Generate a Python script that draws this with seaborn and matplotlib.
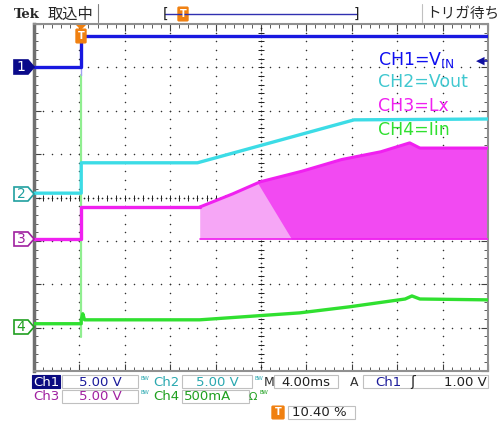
import numpy as np
import pandas as pd
import seaborn as sns
import matplotlib.pyplot as plt
from matplotlib.patches import Polygon, Rectangle, FancyBboxPatch

# Scope capture: time in ms (4.00 ms/div, 10 div), vertical in divisions (8 div)
trig_t = 4.16

ch1_t = [0, 4.16, 4.16, 40]
ch1_v = [3.00, 3.00, 3.72, 3.72]

ch2_t = [0, 4.16, 4.16, 14.4, 28.2, 40]
ch2_v = [0.10, 0.10, 0.80, 0.80, 1.79, 1.81]

ch3_t = [0, 4.16, 4.16, 14.6]
ch3_v = [-0.95, -0.95, -0.22, -0.22]

# CH3 switching envelope (Lx)
env_t = [14.6, 17.3, 19.9, 23.4, 27.0, 30.5, 33.1, 34.0, 40]
env_top = [-0.22, 0.06, 0.36, 0.59, 0.87, 1.05, 1.26, 1.14, 1.14]
env_bot = -0.96
dense_t = [19.7, 22.7]   # where continuous switching starts (top, bottom)

ch4_t = [0, 4.16, 4.16, 4.3, 4.45, 14.6, 23.4, 27.8, 32.7, 33.3, 34.0, 40]
ch4_v = [-2.91, -2.91, -2.82, -2.68, -2.82, -2.82, -2.66, -2.52, -2.34, -2.27, -2.34, -2.36]
ch4_spike = [-3.21, 2.82]

legend_txt = ['CH1=V', 'CH2=Vout', 'CH3=Lx', 'CH4=Iin']
trace_col = {'CH1': '#1818e0', 'CH2': '#3cdce6', 'CH3': '#f020f0', 'CH4': '#30e030'}
label_col = {'CH1': '#1010f0', 'CH2': '#40c8d0', 'CH3': '#f020f0', 'CH4': '#30e030'}

W, H = 498, 421

sns.set_style('white')
plt.rcParams['font.family'] = ['DejaVu Sans']
plt.rcParams['mathtext.fontset'] = 'dejavusans'

fig = plt.figure(figsize=(W / 100, H / 100), dpi=100)
ax = fig.add_axes([34 / W, 1 - 371 / H, 454 / W, 347 / H])
ax.set_xlim(0, 40)
ax.set_ylim(-4, 4)


def P(x, y):
    return (x / W, 1 - y / H)


# graticule dots
gx, gy = [], []
for k in range(1, 10):
    if k == 5:
        continue
    for j in range(1, 40):
        gx.append(4 * k)
        gy.append(-4 + j * 0.2)
for k in range(-3, 4):
    if k == 0:
        continue
    for i in range(1, 50):
        gx.append(i * 0.8)
        gy.append(k)
ax.scatter(gx, gy, s=1.2, color='#303030', lw=0, zorder=1)

# center cross, denser with tick marks
cx = np.arange(0.4, 40, 0.4)
cy = np.arange(-3.9, 4, 0.1)
ax.scatter(cx, np.zeros_like(cx), s=1.5, color='#202020', lw=0, zorder=1)
ax.scatter(np.full_like(cy, 20.0), cy, s=1.5, color='#202020', lw=0, zorder=1)
ax.scatter(np.arange(0.8, 40, 0.8), np.zeros(49), marker='|', s=14, lw=0.7,
           color='#202020', zorder=1)
ax.scatter(np.full(39, 20.0), np.arange(-3.8, 4, 0.2), marker='_', s=14, lw=0.7,
           color='#202020', zorder=1)

# CH3 envelope
tt = np.linspace(env_t[0], 40, 800)
top = np.interp(tt, env_t, env_top)
ax.fill_between(tt, env_bot, top, color='#f6a6f6', lw=0, zorder=2)
top0 = np.interp(dense_t[0], env_t, env_top)
edge = top0 + (tt - dense_t[0]) / (dense_t[1] - dense_t[0]) * (env_bot - top0)
lower = np.clip(edge, env_bot, top)
ax.fill_between(tt, lower, top, where=tt >= dense_t[0], color='#f24af2', lw=0, zorder=2)
ax.plot(tt, top, color=trace_col['CH3'], lw=2.2, zorder=3)
ax.plot([tt[0], 40], [env_bot, env_bot], color=trace_col['CH3'], lw=1.2, zorder=3)

# traces
frames = []
for name, t, v in [('CH1', ch1_t, ch1_v), ('CH2', ch2_t, ch2_v),
                   ('CH3', ch3_t, ch3_v), ('CH4', ch4_t, ch4_v)]:
    frames.append(pd.DataFrame({'t': t, 'v': v, 'ch': name}))
df = pd.concat(frames, ignore_index=True)
sns.lineplot(data=df, x='t', y='v', hue='ch', palette=trace_col, sort=False,
             estimator=None, lw=2.4, legend=False, ax=ax, zorder=4)
ax.plot([trig_t, trig_t], ch4_spike, color='#90ee90', lw=1.6, zorder=3)
ax.plot([trig_t, trig_t], [ch4_spike[1], ch1_v[2]], color='#a0a0f0', lw=1.0, zorder=3)

ax.set_xlabel('')
ax.set_ylabel('')
ax.set_xticks(np.arange(0, 40.1, 4))
ax.set_yticks(np.arange(-4, 4.1, 1))
ax.set_xticks(np.arange(0, 40.1, 0.8), minor=True)
ax.set_yticks(np.arange(-4, 4.1, 0.2), minor=True)
ax.tick_params(which='both', direction='in', top=True, right=True, bottom=True, left=True,
               labelbottom=False, labelleft=False, color='#404040')
ax.tick_params(which='major', length=5, width=0.8)
ax.tick_params(which='minor', length=3, width=0.6)
for s in ax.spines.values():
    s.set_color('#909090')
    s.set_linewidth(1.5)
ax.spines['left'].set_linewidth(2.5)
ax.spines['left'].set_color('#707070')

# legend text in plot
ly = [60, 82, 106, 130]
chs = ['CH1', 'CH2', 'CH3', 'CH4']
for i, (ch, s) in enumerate(zip(chs, legend_txt)):
    if ch == 'CH1':
        s = r'CH1=V$_{\mathregular{IN}}$'
    fig.text(*P(378, ly[i]), s, color=label_col[ch], fontsize=12.5, va='center', ha='left')
fig.text(*P(484, 61), '\u25c0', color='#1010a0', fontsize=8, va='center', ha='right')
fig.add_artist(plt.Line2D([482 / W, 487 / W], [1 - 61 / H] * 2, color='#1010a0', lw=1.2))

# channel markers
mk = [('1', 67, '#0a0a8a', 'white', '#0a0a8a'), ('2', 194, 'white', '#20a0a0', '#20a0a0'),
      ('3', 239, 'white', '#a020a0', '#a020a0'), ('4', 327, 'white', '#20a020', '#20a020')]
for lab, yc, fc, tc, ec in mk:
    pts = [P(14, yc - 7), P(28, yc - 7), P(34, yc), P(28, yc + 7), P(14, yc + 7)]
    fig.add_artist(Polygon(pts, closed=True, fc=fc, ec=ec, lw=1.2, transform=fig.transFigure))
    fig.text(*P(21, yc), lab, color=tc, fontsize=10, va='center', ha='center')


def tmark(x, y):
    fig.add_artist(FancyBboxPatch(P(x - 4, y + 6), 8 / W, 12 / H, boxstyle='round,pad=0.002',
                                  fc='#f08010', ec='#f08010', transform=fig.transFigure))
    fig.text(*P(x, y), 'T', color='white', fontsize=7, fontweight='bold', va='center', ha='center')


tmark(81, 36)
fig.add_artist(Polygon([P(76, 25), P(86, 25), P(81, 30)], fc='#f08010', ec='none',
                       transform=fig.transFigure))

# header
fig.text(*P(14, 14), 'Tek', fontsize=9.5, fontweight='bold', family='DejaVu Serif', va='center')
fig.text(*P(48, 14), '取込中', fontsize=11, family=['Noto Sans CJK JP', 'DejaVu Sans'], va='center')
fig.add_artist(plt.Line2D([98 / W] * 2, [1 - 4 / H, 1 - 22 / H], color='#808080', lw=0.8))
fig.add_artist(plt.Line2D([165 / W, 357 / W], [1 - 14 / H] * 2, color='#3030b0', lw=1.0))
fig.text(*P(163, 14), '[', fontsize=10, va='center', color='#202020')
fig.text(*P(354, 14), ']', fontsize=10, va='center', color='#202020')
tmark(183, 14)
fig.add_artist(plt.Line2D([422 / W] * 2, [1 - 4 / H, 1 - 22 / H], color='#c0c0c0', lw=0.8))
fig.text(*P(426, 14), 'トリガ待ち', fontsize=10.5, family=['Noto Sans CJK JP', 'DejaVu Sans'],
         va='center')


# bottom readout
def rbox(x0, y0, x1, y1, fc='white', ec='#c0c0c0'):
    fig.add_artist(Rectangle(P(x0, y1), (x1 - x0) / W, (y1 - y0) / H, fc=fc, ec=ec, lw=0.8,
                             transform=fig.transFigure))


def rtxt(x, y, s, c, fs=9.5, ha='left', **kw):
    fig.text(*P(x, y), s, color=c, fontsize=fs, va='center', ha=ha, **kw)


navy, teal, purple, green = '#1a1a9a', '#2aa8b0', '#a020a0', '#20a020'
rbox(32, 375, 60, 388, fc='#0a0a80', ec='#0a0a80')
rtxt(46, 382, 'Ch1', 'white', ha='center')
rbox(62, 375, 138, 388)
rtxt(100, 382, '5.00 V', navy, ha='center')
rtxt(140, 378, 'BW', teal, fs=4)
rtxt(153, 382, 'Ch2', teal)
rbox(182, 375, 252, 388)
rtxt(217, 382, '5.00 V', teal, ha='center')
rtxt(254, 378, 'BW', teal, fs=4)
rtxt(264, 382, 'M', '#303030', fs=9)
rbox(274, 375, 338, 388)
rtxt(306, 382, '4.00ms', '#202020', ha='center')
rtxt(350, 382, 'A', '#303030', fs=9)
rbox(363, 375, 488, 388)
rtxt(375, 382, 'Ch1', navy)
rtxt(410, 382, 'ʃ', '#202020', fs=10)
rtxt(487, 382, '1.00 V', '#202020', ha='right')

rtxt(46, 397, 'Ch3', purple, ha='center')
rbox(62, 390, 138, 403)
rtxt(100, 397, '5.00 V', purple, ha='center')
rtxt(140, 393, 'BW', teal, fs=4)
rtxt(153, 397, 'Ch4', green)
rbox(182, 390, 249, 403)
rtxt(184, 397, '500mA', green)
rtxt(249, 397, 'Ω', green, fs=8)
rtxt(259, 393, 'BW', green, fs=4)

fig.add_artist(FancyBboxPatch(P(273, 418), 10 / W, 11 / H, boxstyle='round,pad=0.002',
                              fc='#f08010', ec='#f08010', transform=fig.transFigure))
rtxt(278, 412, 'T', 'white', fs=7, ha='center', fontweight='bold')
rbox(288, 406, 355, 419)
rtxt(292, 412, '10.40 %', '#202020')

fig.savefig('out.png', dpi=100)
